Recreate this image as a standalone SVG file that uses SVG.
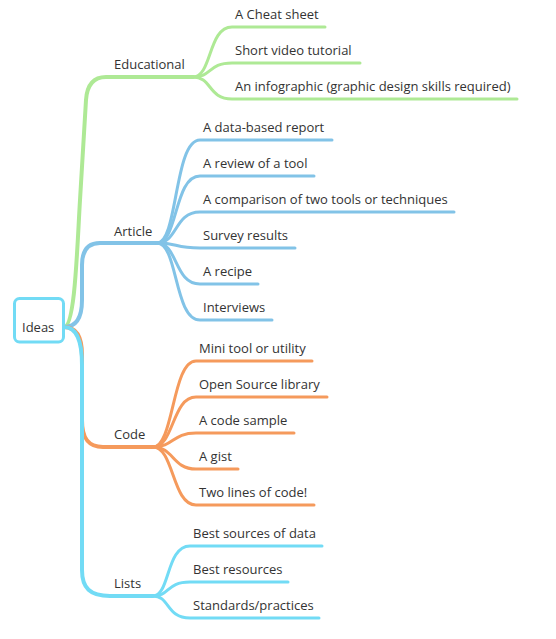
<svg xmlns="http://www.w3.org/2000/svg" width="556" height="639" viewBox="0 0 556 639">
<style>
text{font-family:"Open Sans","Liberation Sans",sans-serif;font-size:13px;fill:#333}
path{fill:none;stroke-linecap:round;stroke-linejoin:round}
.m{stroke-width:4}
.l{stroke-width:3}
.g{stroke:#aee995}
.b{stroke:#82c3e7}
.o{stroke:#f59a5c}
.c{stroke:#72dbf5}
</style>
<rect width="556" height="639" fill="#fff"/>
<g id="connectors">
<path class="m g" d="M64,327 C75,327 77,250 80,200 L86,100 C87,85 93,77 106,77 L193,77"/>
<path class="m b" d="M64,327 C76,327 82,318 82,300 L82,265 C82,250 88,243 100,243 L157,243"/>
<path class="m o" d="M64,327 C76,327 82,336 82,355 L82,420 C82,438 88,447 103,447 L153,447"/>
<path class="m c" d="M64,327 C76,327 82,340 82,365 L82,570 C82,588 90,596 110,596 L153,596"/>
<path class="l g" d="M193,77 C212,77 208,27 232,27 L325,27"/>
<path class="l g" d="M193,77 C212,77 208,63 232,63 L360,63"/>
<path class="l g" d="M193,77 C212,77 208,99 232,99 L517,99"/>
<path class="l b" d="M157,243 C178,243 174,140 200,140 L332,140"/>
<path class="l b" d="M157,243 C178,243 174,176 200,176 L314,176"/>
<path class="l b" d="M157,243 C178,243 174,212 200,212 L454,212"/>
<path class="l b" d="M157,243 C178,243 174,248 200,248 L295,248"/>
<path class="l b" d="M157,243 C178,243 174,284 200,284 L258,284"/>
<path class="l b" d="M157,243 C178,243 174,320 200,320 L272,320"/>
<path class="l o" d="M153,447 C174,447 172,361 196,361 L312,361"/>
<path class="l o" d="M153,447 C174,447 172,397 196,397 L327,397"/>
<path class="l o" d="M153,447 C174,447 172,433 196,433 L294,433"/>
<path class="l o" d="M153,447 C174,447 172,469 196,469 L238,469"/>
<path class="l o" d="M153,447 C174,447 172,505 196,505 L314,505"/>
<path class="l c" d="M153,596 C170,596 166,546 190,546 L322,546"/>
<path class="l c" d="M153,596 C170,596 166,582 190,582 L288,582"/>
<path class="l c" d="M153,596 C170,596 166,618 190,618 L319,618"/>
</g>
<g id="ideas">
<rect x="14.5" y="298.5" width="49" height="43.5" rx="5" fill="#fff" stroke="#72dbf5" stroke-width="3"/>
<text x="22" y="332">Ideas</text>
</g>
<g id="educational"><text x="114" y="69">Educational</text></g>
<g id="edu1"><text x="235" y="19">A Cheat sheet</text></g>
<g id="edu2"><text x="235" y="55">Short video tutorial</text></g>
<g id="edu3"><text x="235" y="91">An infographic (graphic design skills required)</text></g>
<g id="article"><text x="114" y="236">Article</text></g>
<g id="art1"><text x="203" y="132">A data-based report</text></g>
<g id="art2"><text x="203" y="168">A review of a tool</text></g>
<g id="art3"><text x="203" y="204">A comparison of two tools or techniques</text></g>
<g id="art4"><text x="203" y="240">Survey results</text></g>
<g id="art5"><text x="203" y="276">A recipe</text></g>
<g id="art6"><text x="203" y="312">Interviews</text></g>
<g id="code"><text x="114" y="439">Code</text></g>
<g id="code1"><text x="199" y="353">Mini tool or utility</text></g>
<g id="code2"><text x="199" y="389">Open Source library</text></g>
<g id="code3"><text x="199" y="425">A code sample</text></g>
<g id="code4"><text x="199" y="461">A gist</text></g>
<g id="code5"><text x="199" y="497">Two lines of code!</text></g>
<g id="lists"><text x="114" y="588">Lists</text></g>
<g id="list1"><text x="193" y="538">Best sources of data</text></g>
<g id="list2"><text x="193" y="574">Best resources</text></g>
<g id="list3"><text x="193" y="610">Standards/practices</text></g>
</svg>
